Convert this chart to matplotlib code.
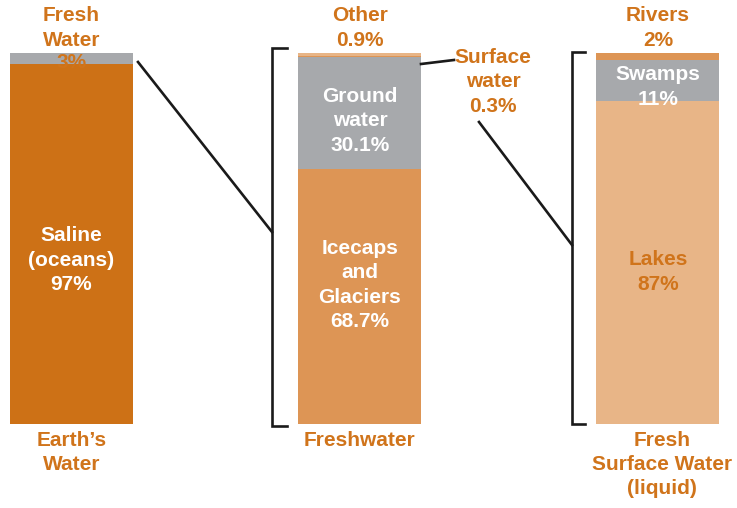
import matplotlib
matplotlib.use("Agg")
import matplotlib.pyplot as plt

# ---- data ----
earth_labels = ["Saline\n(oceans)\n97%", "3%"]
earth_values = [97, 3]
fresh_labels = ["Icecaps\nand\nGlaciers\n68.7%", "Ground\nwater\n30.1%", "Surface water 0.3%", "Other 0.9%"]
fresh_values = [68.7, 30.1, 0.3, 0.9]
surface_labels = ["Lakes\n87%", "Swamps\n11%", "Rivers 2%"]
surface_values = [87, 11, 2]
bar_titles = ["Earth\u2019s\nWater", "Freshwater", "Fresh\nSurface Water\n(liquid)"]

# ---- style ----
DARK = "#CD7116"
MID = "#DD9555"
LIGHT = "#E8B587"
GRAY = "#A7A9AC"
TXT = "#D0741B"
FONT = ["Liberation Sans", "DejaVu Sans"]
FS = 15
LS = 1.35

W, H = 737, 508
fig = plt.figure(figsize=(W / 100, H / 100), dpi=100)
y0_px, y1_px = 424, 53
ax = fig.add_axes([0, (H - y0_px) / H, 1, (y0_px - y1_px) / H])
ax.set_xlim(0, W)
ax.set_ylim(0, 100)
ax.axis("off")

def py(p):
    """pixel row -> data y"""
    return (y0_px - p) / (y0_px - y1_px) * 100

bw = 123
xs = [71.5, 360, 658]

def stack(x, values, colors):
    b = 0
    for v, c in zip(values, colors):
        ax.bar(x, v, bottom=b, width=bw, color=c, linewidth=0)
        b += v

stack(xs[0], earth_values, [DARK, GRAY])
stack(xs[1], fresh_values, [MID, GRAY, MID, LIGHT])
stack(xs[2], surface_values, [LIGHT, GRAY, MID])

def txt(x, y, s, color, **kw):
    ax.text(x, y, s, color=color, fontsize=FS, fontweight="bold", family=FONT,
            ha="center", va="center", linespacing=LS, clip_on=False, **kw)

# inside labels
txt(xs[0], py(260), earth_labels[0], "white")
txt(xs[0], py(63), earth_labels[1], TXT)
txt(xs[1], py(121), fresh_labels[1], "white")
txt(xs[1], py(285), fresh_labels[0], "white")
txt(xs[2], py(87), surface_labels[1], "white")
txt(xs[2], py(272), surface_labels[0], TXT)

# top labels
txt(xs[0], py(28), "Fresh\nWater", TXT)
txt(xs[1], py(28), "Other\n0.9%", TXT)
txt(xs[2], py(28), "Rivers\n2%", TXT)
txt(493, py(82), "Surface\nwater\n0.3%", TXT)

# bottom labels
for x, s in zip([71.5, 360, 662], bar_titles):
    ax.text(x, py(431), s, color=TXT, fontsize=FS, fontweight="bold", family=FONT,
            ha="center", va="top", linespacing=LS, clip_on=False)

# brackets & connectors
LW = 1.9
def bracket(x, top_px, bot_px, tick):
    ax.plot([x + tick, x, x, x + tick], [py(top_px), py(top_px), py(bot_px), py(bot_px)],
            color="#1a1a1a", lw=LW, clip_on=False, solid_joinstyle="miter")

bracket(272, 48, 426, 15)
bracket(572, 52, 424, 13)
ax.plot([138, 272], [py(62), py(232)], color="#1a1a1a", lw=LW, clip_on=False)
ax.plot([421, 454], [py(64), py(60)], color="#1a1a1a", lw=LW, clip_on=False)
ax.plot([479, 572], [py(122), py(245)], color="#1a1a1a", lw=LW, clip_on=False)

fig.savefig("out.png", dpi=100)
